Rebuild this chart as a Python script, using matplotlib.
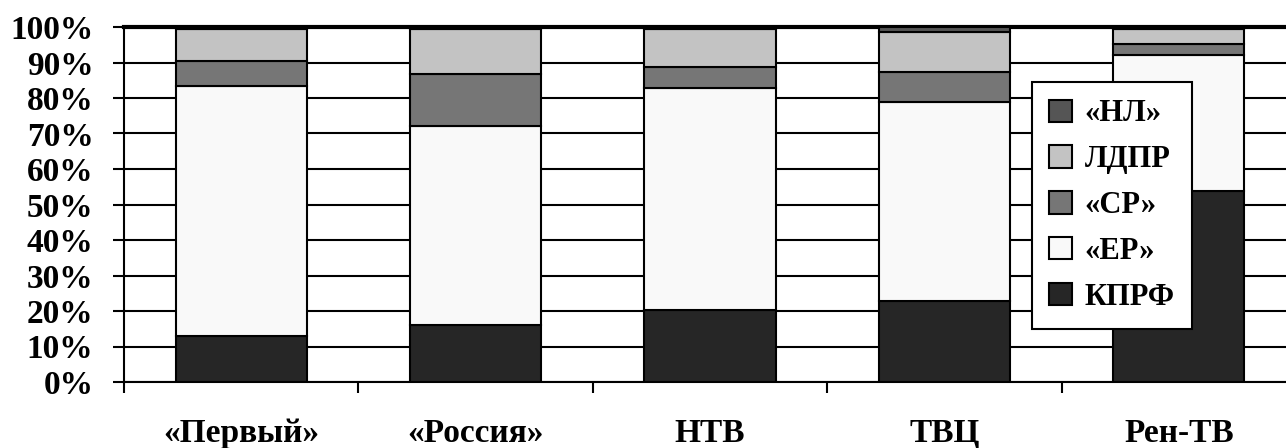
"""
Stacked share of party mentions by TV channel (matplotlib, headless).
"""

import matplotlib

matplotlib.use("Agg")
import matplotlib.pyplot as plt
import numpy as np

channels = ["«Первый»", "«Россия»", "НТВ", "ТВЦ", "Рен-ТВ"]
parties = ["КПРФ", "«ЕР»", "«СР»", "ЛДПР", "«НЛ»"]

kprf = [13.0, 16.0, 20.3, 22.8, 53.9]
er = [70.5, 56.1, 62.4, 56.2, 38.2]
sr = [6.9, 14.6, 6.1, 8.4, 3.2]
ldpr = [8.9, 12.6, 10.5, 11.2, 4.0]
nl = [0.7, 0.7, 0.7, 1.4, 0.7]

colors = ["#262626", "#f9f9f9", "#767676", "#c3c3c3", "#555555"]

plt.rcParams["font.family"] = ["Liberation Serif", "DejaVu Serif"]
plt.rcParams["font.weight"] = "bold"

fig = plt.figure(figsize=(12.86, 4.48), dpi=100)
ax = fig.add_axes([124 / 1286, 1 - 382 / 448, 1172 / 1286, 355 / 448])

x = np.arange(len(channels))
bottom = np.zeros(len(channels))
handles = []
for name, vals, c in zip(parties, [kprf, er, sr, ldpr, nl], colors):
    b = ax.bar(x, vals, width=0.56, bottom=bottom, color=c,
               edgecolor="black", linewidth=1.5, label=name, zorder=3)
    handles.append(b)
    bottom += np.array(vals)

ax.set_xlim(-0.5, 4.5)
ax.set_ylim(0, 100)
ax.set_yticks(np.arange(0, 101, 10))
ax.set_yticklabels([f"{v}%" for v in range(0, 101, 10)], fontsize=24)
ax.yaxis.grid(True, color="black", lw=1.5, zorder=0)
ax.set_axisbelow(True)

ax.set_xticks(np.arange(-0.5, 5, 1))
ax.set_xticklabels([])
ax.set_xticks(x, minor=True)
ax.set_xticklabels(channels, minor=True, fontsize=24)
ax.tick_params(axis="x", which="major", direction="out", length=8, width=1.5)
ax.tick_params(axis="x", which="minor", length=0, pad=26)
ax.tick_params(axis="y", direction="out", length=8, width=1.5, pad=14)

ax.spines["right"].set_visible(False)
ax.spines["top"].set_linewidth(3)
ax.spines["left"].set_linewidth(1.5)
ax.spines["bottom"].set_linewidth(1.5)

leg = ax.legend(handles[::-1], parties[::-1], loc="upper left",
                bbox_to_anchor=(1032 / 1286, 1 - 82 / 448),
                bbox_transform=fig.transFigure, borderaxespad=0,
                fontsize=22, handlelength=0.75, handleheight=0.75,
                handletextpad=0.4, labelspacing=0.55, borderpad=0.57,
                fancybox=False, framealpha=1, edgecolor="black")
leg.get_frame().set_linewidth(1.5)
leg.set_zorder(5)

fig.savefig("out.png", dpi=100)
